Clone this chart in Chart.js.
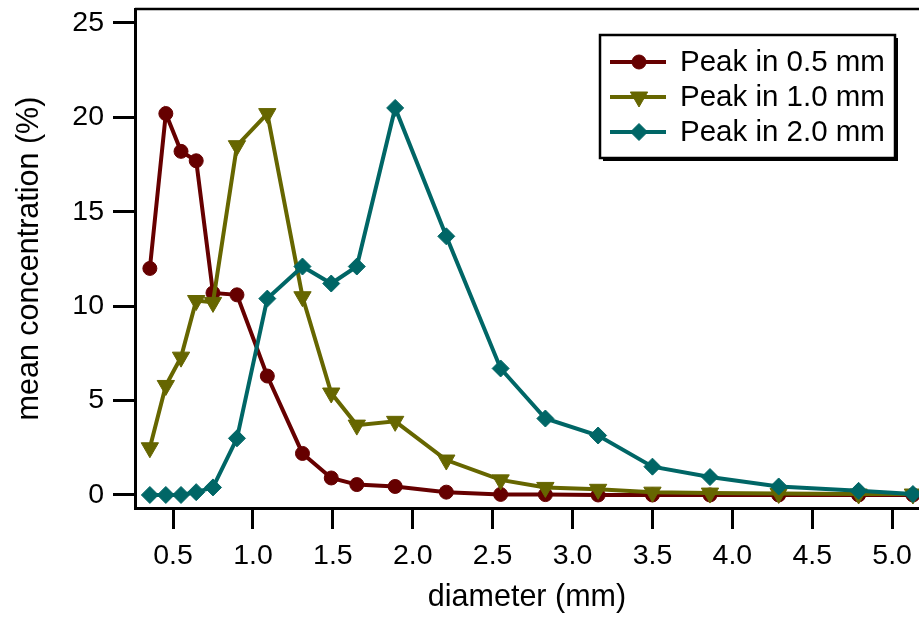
<!DOCTYPE html>
<html>
<head>
<meta charset="utf-8">
<script src="https://cdn.jsdelivr.net/npm/chart.js@4/dist/chart.umd.min.js"></script>
<style>
  html, body { margin: 0; padding: 0; background: #fff; }
  #wrap { width: 919px; height: 621px; }
</style>
</head>
<body>
<div id="wrap"><canvas id="chart"></canvas></div>
<script>
// Data
const diameters = [0.355, 0.455, 0.55, 0.645, 0.75, 0.9, 1.09, 1.31, 1.49, 1.65, 1.89, 2.21, 2.55, 2.83, 3.16, 3.5, 3.86, 4.29, 4.79, 5.13];
const peak05 = [12.0, 20.2, 18.2, 17.7, 10.7, 10.6, 6.3, 2.2, 0.9, 0.55, 0.45, 0.15, 0.03, 0.02, 0, 0, 0, 0, 0, 0];
const peak10 = [2.5, 5.8, 7.3, 10.3, 10.2, 18.5, 20.2, 10.5, 5.4, 3.7, 3.9, 1.85, 0.8, 0.4, 0.3, 0.15, 0.1, 0.08, 0.05, 0.05];
const peak20 = [0, 0, 0, 0.15, 0.4, 3.0, 10.4, 12.1, 11.2, 12.1, 20.5, 13.7, 6.7, 4.05, 3.15, 1.5, 0.95, 0.45, 0.22, 0.05];
const seriesNames = ['Peak in 0.5 mm', 'Peak in 1.0 mm', 'Peak in 2.0 mm'];
const xTicks = [0.5, 1.0, 1.5, 2.0, 2.5, 3.0, 3.5, 4.0, 4.5, 5.0];
const yTicks = [0, 5, 10, 15, 20, 25];

// Colors
const colRed = '#660000';
const colOlive = '#666600';
const colTeal = '#006666';

const font = "'Liberation Sans', Arial, sans-serif";

const toPoints = vals => vals.map((v, i) => ({ x: diameters[i], y: v }));

// top frame line
const framePlugin = {
    id: 'frame',
    beforeDatasetsDraw(chart) {
        const { ctx, chartArea } = chart;
        ctx.save();
        ctx.strokeStyle = '#000';
        ctx.lineWidth = 2.5;
        ctx.beginPath();
        ctx.moveTo(chartArea.left, chartArea.top);
        ctx.lineTo(chartArea.right, chartArea.top);
        ctx.stroke();
        ctx.restore();
    }
};

// boxed legend with drop shadow
const boxLegend = {
    id: 'boxLegend',
    afterDraw(chart) {
        const ctx = chart.ctx;
        const bx = 600, by = 35, bw = 295, bh = 123;
        ctx.save();
        ctx.fillStyle = '#000';
        ctx.fillRect(bx + 3, by + 3, bw, bh);
        ctx.fillStyle = '#fff';
        ctx.fillRect(bx, by, bw, bh);
        ctx.strokeStyle = '#000';
        ctx.lineWidth = 2.5;
        ctx.strokeRect(bx, by, bw, bh);

        chart.data.datasets.forEach((ds, i) => {
            const y = 62 + i * 35;
            ctx.strokeStyle = ds.borderColor;
            ctx.lineWidth = ds.borderWidth;
            ctx.beginPath();
            ctx.moveTo(610, y);
            ctx.lineTo(666, y);
            ctx.stroke();
            ctx.fillStyle = ds.pointBackgroundColor;
            ctx.strokeStyle = ds.pointBorderColor;
            ctx.lineWidth = 1;
            Chart.helpers.drawPoint(ctx, {
                pointStyle: ds.pointStyle,
                radius: ds.pointRadius,
                rotation: ds.pointRotation || 0,
                borderWidth: 1
            }, 639, y);
            ctx.fillStyle = '#000';
            ctx.font = "29.5px " + font;
            ctx.textBaseline = 'middle';
            ctx.textAlign = 'left';
            ctx.fillText(ds.label, 680, y + 1);
        });
        ctx.restore();
    }
};

function makeSet(label, vals, color, style, radius, rotation, order) {
    return {
        label: label,
        data: toPoints(vals),
        borderColor: color,
        backgroundColor: color,
        pointBackgroundColor: color,
        pointBorderColor: color,
        borderWidth: 4,
        pointStyle: style,
        pointRadius: radius,
        pointRotation: rotation,
        pointBorderWidth: 1,
        tension: 0,
        order: order
    };
}

new Chart(document.getElementById('chart'), {
    type: 'line',
    data: {
        datasets: [
            makeSet(seriesNames[0], peak05, colRed, 'circle', 7, 0, 2),
            makeSet(seriesNames[1], peak10, colOlive, 'triangle', 10, 180, 1),
            makeSet(seriesNames[2], peak20, colTeal, 'rectRot', 8.5, 0, 0)
        ]
    },
    options: {
        responsive: true,
        maintainAspectRatio: false,
        animation: false,
        layout: { autoPadding: false, padding: { left: 0, right: 0, top: 9, bottom: 0 } },
        plugins: {
            legend: { display: false },
            tooltip: { enabled: false }
        },
        scales: {
            x: {
                type: 'linear',
                min: 0.262,
                max: 5.168,
                afterBuildTicks: scale => { scale.ticks = xTicks.map(v => ({ value: v })); },
                afterFit: scale => { scale.height = 113; scale.paddingLeft = 0; scale.paddingRight = 0; },
                border: { display: true, color: '#000', width: 3 },
                grid: { drawOnChartArea: false, drawTicks: true, tickLength: 21, tickColor: '#000', tickWidth: 3 },
                ticks: {
                    color: '#000',
                    padding: 10,
                    maxRotation: 0,
                    font: { family: font, size: 28.5 },
                    callback: v => Number(v).toFixed(1)
                },
                title: {
                    display: true,
                    text: 'diameter (mm)',
                    color: '#000',
                    font: { family: font, size: 30.5, lineHeight: 1.3 }
                }
            },
            y: {
                type: 'linear',
                min: -0.69,
                max: 25.74,
                afterBuildTicks: scale => { scale.ticks = yTicks.map(v => ({ value: v })); },
                afterFit: scale => { scale.width = 135; scale.paddingTop = 0; scale.paddingBottom = 0; },
                border: { display: true, color: '#000', width: 3 },
                grid: { drawOnChartArea: false, drawTicks: true, tickLength: 22, tickColor: '#000', tickWidth: 3 },
                ticks: {
                    color: '#000',
                    padding: 9,
                    font: { family: font, size: 28.5 },
                    callback: v => String(v)
                },
                title: {
                    display: true,
                    text: 'mean concentration (%)',
                    color: '#000',
                    font: { family: font, size: 30.5, lineHeight: 1.7 }
                }
            }
        }
    },
    plugins: [framePlugin, boxLegend]
});
</script>
</body>
</html>
